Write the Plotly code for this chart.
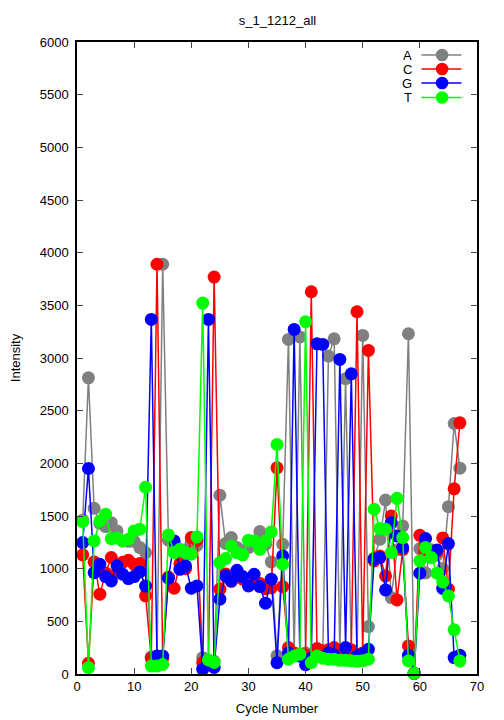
import plotly.graph_objects as go

cycles = list(range(1, 68))

A = [1460, 2812, 1573, 1430, 1400, 1437, 1358, 1263, 1260, 1260, 1200, 1153, 163, 150, 3890,
     1270, 1180, 1150, 1180, 1250, 1220, 155, 130, 120, 1697, 1240, 1295, 1200, 1150, 1200,
     1230, 1352, 1230, 1064, 173, 1232, 3176, 180, 3200, 200, 190, 170, 180, 3018, 3182,
     200, 2803, 190, 180, 3214, 450, 1100, 1279, 1652, 726, 1180, 1406, 3230, 5, 1190,
     960, 1180, 1130, 1000, 1589, 2378, 1954]
C = [1131, 102, 1064, 758, 960, 1106, 960, 1060, 1080, 1040, 1050, 742, 150, 3890, 150,
     920, 814, 1046, 1000, 1295, 1270, 109, 130, 3768, 805, 950, 880, 930, 900, 850,
     860, 860, 810, 818, 1957, 829, 251, 200, 190, 180, 3629, 242, 220, 230, 251,
     220, 200, 230, 3439, 200, 3072, 1073, 1120, 931, 1501, 703, 1180, 267, 5, 1317,
     1180, 1150, 1160, 1292, 805, 1758, 2385]
G = [1248, 1951, 962, 1042, 925, 884, 1027, 947, 906, 925, 969, 835, 3366, 170, 170,
     909, 1263, 994, 1026, 814, 836, 46, 3366, 62, 710, 931, 884, 984, 925, 836,
     947, 830, 672, 900, 107, 1121, 200, 3271, 170, 88, 150, 3135, 3129, 200, 180,
     2986, 251, 2850, 170, 190, 235, 1090, 1105, 798, 1437, 1311, 1200, 178, 5, 957,
     1286, 1150, 1178, 812, 1238, 156, 178]
T = [1447, 60, 1263, 1453, 1517, 1285, 1290, 1265, 1280, 1358, 1374, 1773, 75, 75, 90,
     1320, 1153, 1184, 1153, 1137, 1301, 3521, 134, 110, 1058, 1096, 1216, 1150, 1131, 1270,
     1263, 1184, 1263, 1349, 2179, 1042, 140, 170, 188, 3344, 108, 171, 150, 140, 140,
     130, 130, 125, 120, 125, 140, 1564, 1381, 1374, 1153, 1668, 1295, 124, 5, 1074,
     1200, 1105, 957, 874, 741, 419, 124]

series_names = ["A", "C", "G", "T"]
series_vals = [A, C, G, T]
colors = ["#808080", "#ff0000", "#0000ff", "#00ff00"]

fig = go.Figure()
for name, vals, col in zip(series_names, series_vals, colors):
    fig.add_trace(go.Scatter(
        x=cycles, y=vals, mode="lines+markers", name=name,
        line=dict(color=col, width=1.5),
        marker=dict(color=col, size=13, line=dict(width=0)),
        cliponaxis=False, showlegend=False))

# page offset of 8px (body margin) is compensated in the margins below
PW, PH = 400.0, 632.0
def px_x(px):
    return (px - 77.2) / PW
def px_y(py):
    return (674.0 - py) / PH

key_rows = [55, 69, 83, 97.5]
for name, col, py in zip(series_names, colors, key_rows):
    yy = px_y(py)
    fig.add_annotation(x=px_x(414), y=yy, xref="paper", yref="paper", text=name,
                       showarrow=False, xanchor="right", yanchor="middle",
                       font=dict(family="Liberation Sans, Arial", size=13, color="black"))
    fig.add_shape(type="line", xref="paper", yref="paper",
                  x0=px_x(421.7), x1=px_x(461.7), y0=yy, y1=yy,
                  line=dict(color=col, width=1.5))
    cx = px_x(442.3)
    rx = 6.3 / PW
    ry = 6.3 / PH
    fig.add_shape(type="circle", xref="paper", yref="paper",
                  x0=cx - rx, x1=cx + rx, y0=yy - ry, y1=yy + ry,
                  fillcolor=col, line=dict(width=0))

font = dict(family="Liberation Sans, Arial, sans-serif", size=13, color="black")
fig.update_layout(
    width=496, height=712,
    margin=dict(l=69, r=27, t=34, b=46, autoexpand=False),
    plot_bgcolor="white", paper_bgcolor="white",
    font=font,
    title=dict(text="s_1_1212_all", x=(277.5 - 8) / 496, xanchor="center",
               y=1 - 12 / 712, yanchor="middle", font=dict(size=13)),
    xaxis=dict(range=[0, 70], tickvals=[0, 10, 20, 30, 40, 50, 60, 70],
               ticks="inside", ticklen=6, mirror="ticks", showline=True,
               linecolor="black", linewidth=1.5, showgrid=False, zeroline=False,
               automargin=False,
               title=dict(text="Cycle Number", standoff=11, font=dict(size=13)),
               tickfont=font),
    yaxis=dict(range=[0, 6000], dtick=500, ticks="inside", ticklen=6,
               mirror="ticks", showline=True, linecolor="black", linewidth=1.5,
               showgrid=False, zeroline=False, automargin=False,
               ticklabelstandoff=4,
               title=dict(text="Intensity", standoff=20, font=dict(size=13)),
               tickfont=font),
)

fig.write_html("out.html")
